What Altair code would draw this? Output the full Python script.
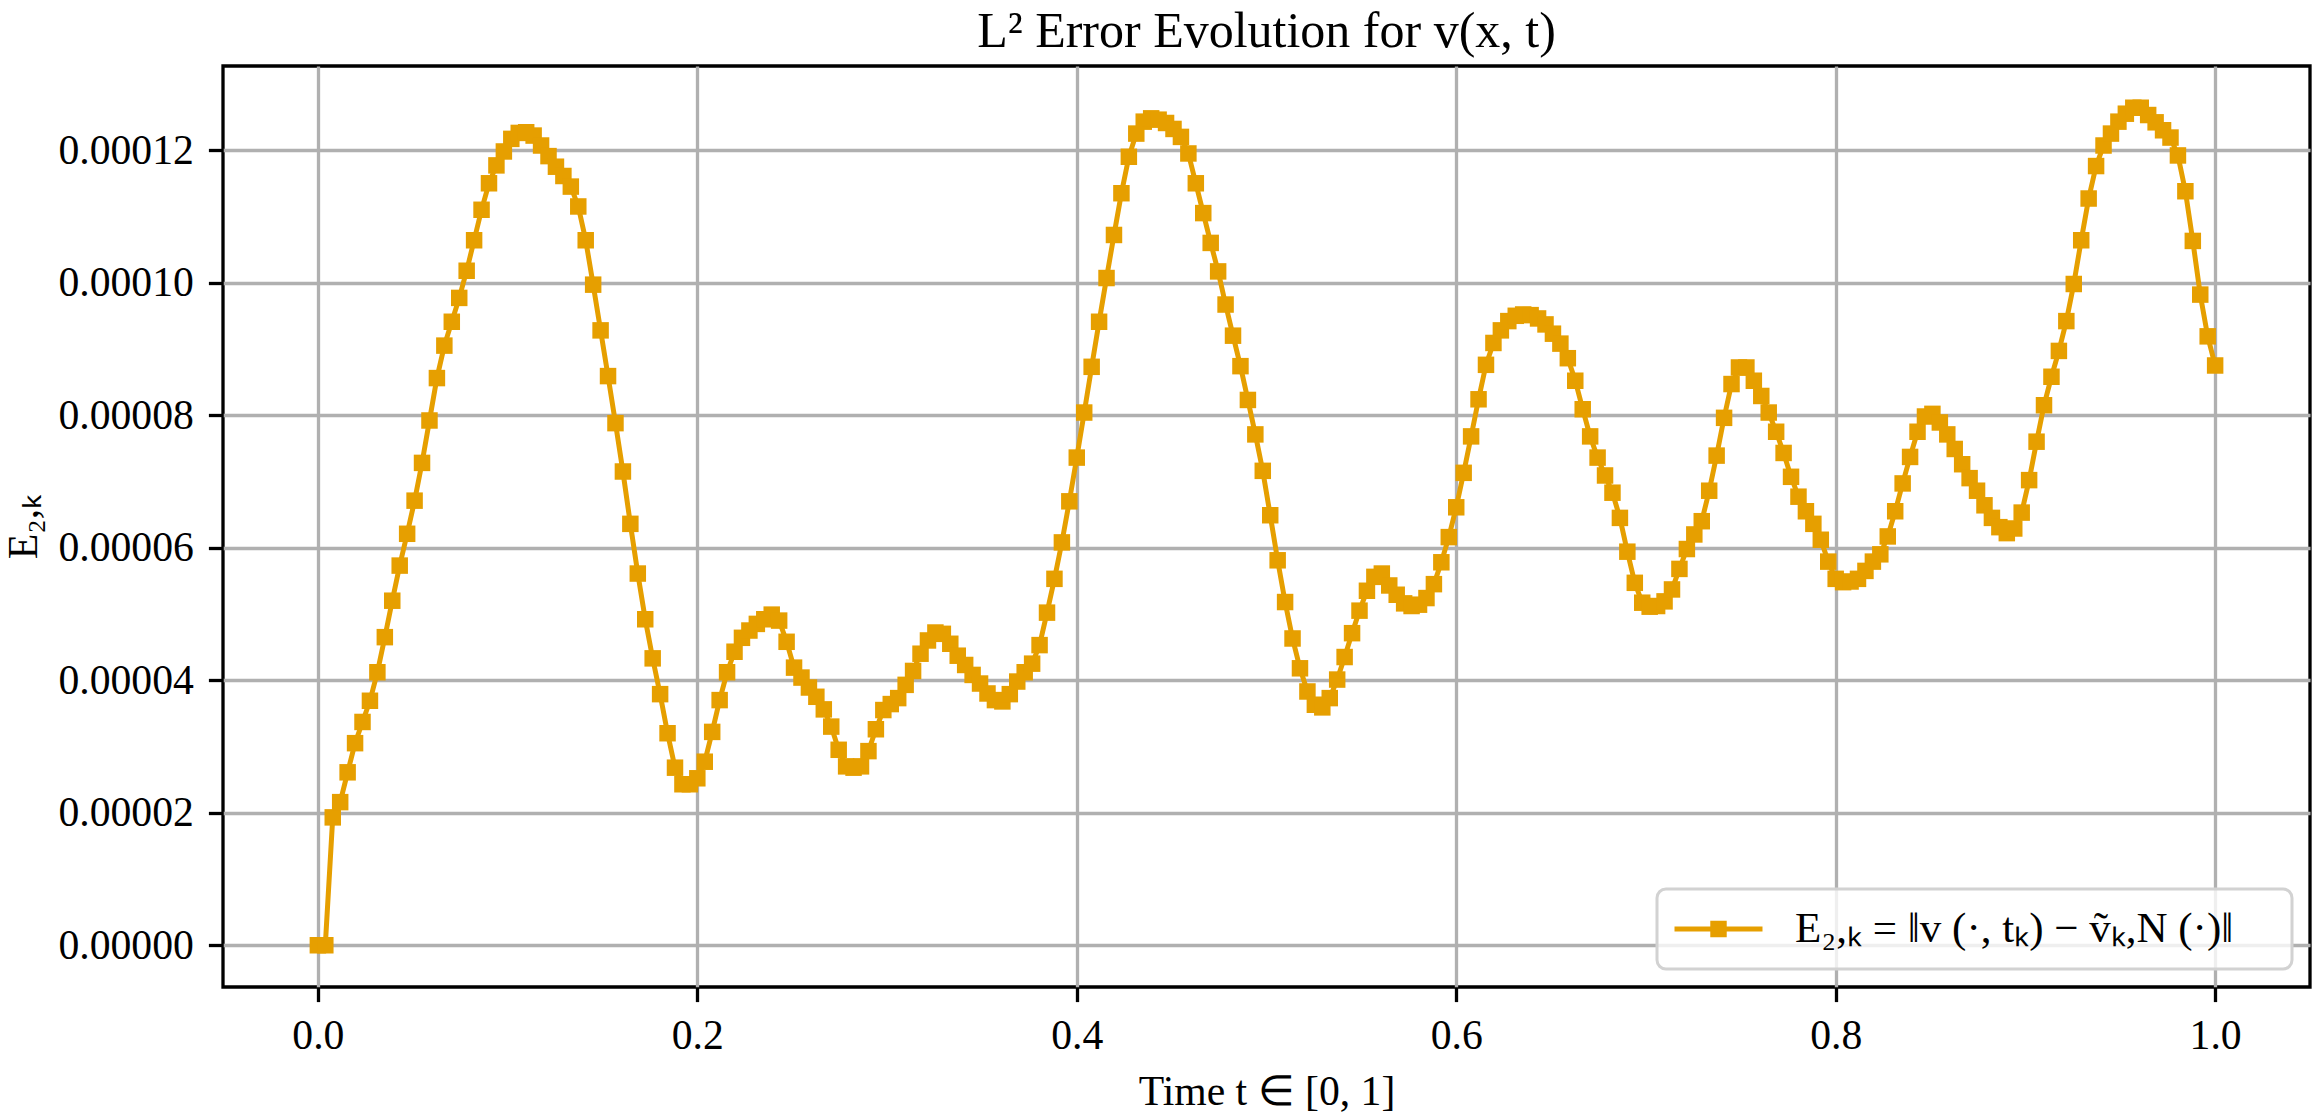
import altair as alt
import pandas as pd

# E_{2,k} values, in units of 1e-5 (k = 0 .. 255)
error_e5 = [
    0.00, 0.00, 1.93, 2.16, 2.61, 3.05, 3.37, 3.69, 4.12, 4.65,
    5.20, 5.73, 6.21, 6.71, 7.28, 7.92, 8.56, 9.05, 9.41, 9.77,
    10.18, 10.64, 11.10, 11.50, 11.77, 11.98, 12.17, 12.26, 12.27, 12.22,
    12.07, 11.91, 11.75, 11.61, 11.45, 11.15, 10.64, 9.97, 9.28, 8.59,
    7.88, 7.15, 6.36, 5.61, 4.92, 4.33, 3.79, 3.20, 2.68, 2.43,
    2.43, 2.52, 2.77, 3.22, 3.70, 4.12, 4.43, 4.64, 4.75, 4.85,
    4.92, 4.99, 4.90, 4.58, 4.19, 4.04, 3.89, 3.75, 3.56, 3.30,
    2.95, 2.70, 2.68, 2.70, 2.93, 3.26, 3.55, 3.64, 3.73, 3.93,
    4.14, 4.40, 4.60, 4.72, 4.70, 4.55, 4.37, 4.23, 4.08, 3.95,
    3.80, 3.70, 3.68, 3.79, 3.98, 4.12, 4.25, 4.53, 5.02, 5.53,
    6.08, 6.70, 7.36, 8.04, 8.73, 9.41, 10.07, 10.72, 11.35, 11.90,
    12.25, 12.43, 12.48, 12.46, 12.41, 12.32, 12.20, 11.95, 11.50, 11.05,
    10.60, 10.17, 9.67, 9.20, 8.74, 8.23, 7.71, 7.16, 6.49, 5.81,
    5.18, 4.63, 4.18, 3.83, 3.63, 3.59, 3.73, 4.01, 4.35, 4.71,
    5.05, 5.35, 5.56, 5.61, 5.43, 5.29, 5.16, 5.12, 5.14, 5.24,
    5.45, 5.78, 6.16, 6.61, 7.13, 7.68, 8.24, 8.76, 9.09, 9.28,
    9.42, 9.50, 9.52, 9.51, 9.46, 9.37, 9.23, 9.08, 8.86, 8.52,
    8.09, 7.68, 7.36, 7.09, 6.83, 6.45, 5.94, 5.47, 5.17, 5.11,
    5.12, 5.19, 5.37, 5.68, 5.98, 6.20, 6.40, 6.86, 7.39, 7.96,
    8.47, 8.72, 8.72, 8.52, 8.29, 8.04, 7.75, 7.43, 7.07, 6.77,
    6.55, 6.36, 6.12, 5.79, 5.53, 5.48, 5.49, 5.53, 5.65, 5.79,
    5.90, 6.17, 6.55, 6.97, 7.37, 7.75, 7.98, 8.02, 7.89, 7.71,
    7.49, 7.26, 7.05, 6.86, 6.64, 6.45, 6.31, 6.22, 6.29, 6.53,
    7.02, 7.60, 8.15, 8.58, 8.97, 9.42, 9.98, 10.64, 11.27, 11.76,
    12.07, 12.25, 12.43, 12.55, 12.64, 12.64, 12.53, 12.42, 12.30, 12.19,
    11.92, 11.38, 10.63, 9.82, 9.19, 8.75,
]
n_intervals = 255  # uniform time grid on [0, 1]
t_values = [k / n_intervals for k in range(len(error_e5))]
errors = [v * 1e-5 for v in error_e5]

title_text = "L² Error Evolution for v(x, t)"
x_title = "Time t ∈ [0, 1]"
y_title = "E₂,ₖ"
legend_label = "E₂,ₖ  =  ‖v (·, tₖ)  −  ṽₖ,N (·)‖"
x_ticks = [0.0, 0.2, 0.4, 0.6, 0.8, 1.0]
y_ticks = [0.0, 0.00002, 0.00004, 0.00006, 0.00008, 0.00010, 0.00012]

df = pd.DataFrame({"t": t_values, "err": errors, "series": legend_label})

FONT = "Liberation Serif"
ORANGE = "#E69F00"
FS = 41.7

x_enc = alt.X(
    "t:Q",
    scale=alt.Scale(domain=[-0.05, 1.05], nice=False, zero=False),
    axis=alt.Axis(values=x_ticks, format=".1f", title=x_title, labelPadding=14,
                  labelFlush=False, titleX=1043.5, titleY=104,
                  titleAlign="center", titleBaseline="middle"),
)
y_enc = alt.Y(
    "err:Q",
    scale=alt.Scale(domain=[-0.0000063, 0.0001327], nice=False, zero=False),
    axis=alt.Axis(values=y_ticks, format=".5f", title=y_title, labelPadding=15,
                  labelFlush=False, titleAngle=270, titleX=-200, titleY=460.5,
                  titleAlign="center", titleBaseline="middle"),
)

legend = alt.Legend(
    title=None, orient="none", legendX=1434, legendY=823,
    padding=15, clipHeight=50, labelOffset=30, labelLimit=2000,
    labelFont=FONT, labelFontSize=43, labelColor="black", labelBaseline="middle",
    symbolType="M-1,0H1M-0.13,-0.13H0.13V0.13H-0.13Z", symbolSize=7744,
    symbolStrokeWidth=5, symbolFillColor=ORANGE, symbolStrokeColor=ORANGE,
    symbolOpacity=1,
    fillColor="rgba(255,255,255,0.8)", strokeColor="#d2d2d2", cornerRadius=9,
)

base = alt.Chart(df)
line = base.mark_line(strokeWidth=5).encode(
    x=x_enc, y=y_enc,
    color=alt.Color("series:N", scale=alt.Scale(domain=[legend_label], range=[ORANGE]),
                    legend=legend),
)
pts = base.mark_point(shape="square", filled=True, size=272, opacity=1,
                      color=ORANGE).encode(x="t:Q", y="err:Q")

chart = (
    alt.layer(line, pts)
    .properties(
        width=2087, height=921,
        title=alt.TitleParams(text=title_text, font=FONT, fontSize=50,
                              fontWeight="normal", anchor="middle", offset=9,
                              frame="group", baseline="top", color="black"),
        padding={"left": 223, "top": 66, "right": 3, "bottom": 125},
        autosize=alt.AutoSizeParams(type="none"),
        background="white",
    )
    .configure_view(stroke="black", strokeWidth=3.3)
    .configure_axis(
        labelFont=FONT, labelFontSize=FS, labelColor="black",
        titleFont=FONT, titleFontSize=FS, titleFontWeight="normal", titleColor="black",
        tickColor="black", tickWidth=3.3, tickSize=14.6,
        gridColor="#b0b0b0", gridWidth=3.3, domain=False,
    )
    .configure_legend(strokeWidth=3)
)

chart.save("out.html", embed_options={"renderer": "svg", "actions": False})
